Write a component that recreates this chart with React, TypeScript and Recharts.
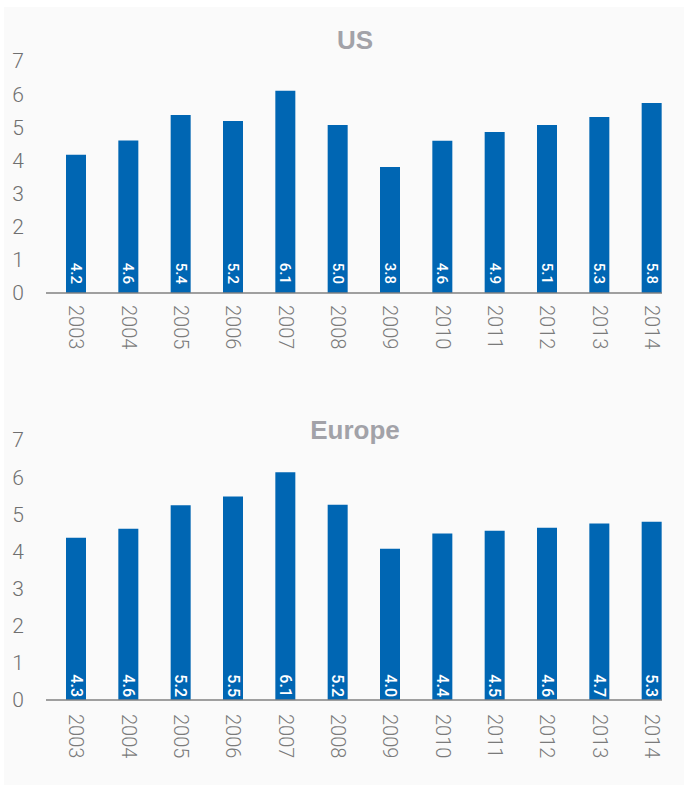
import { BarChart, Bar, XAxis, YAxis, LabelList } from 'recharts'

const YEARS = ['2003', '2004', '2005', '2006', '2007', '2008', '2009', '2010', '2011', '2012', '2013', '2014']

// bar heights as drawn, and the printed labels (they don't always agree in the source)
const US_BARS = [4.17, 4.6, 5.37, 5.19, 6.1, 5.07, 3.8, 4.59, 4.86, 5.07, 5.31, 5.73]
const US_LABELS = ['4.2', '4.6', '5.4', '5.2', '6.1', '5.0', '3.8', '4.6', '4.9', '5.1', '5.3', '5.8']

const EU_BARS = [4.37, 4.61, 5.24, 5.48, 6.13, 5.26, 4.07, 4.48, 4.56, 4.64, 4.75, 4.8]
const EU_LABELS = ['4.3', '4.6', '5.2', '5.5', '6.1', '5.2', '4.0', '4.4', '4.5', '4.6', '4.7', '5.3']

const Y_TICKS = [0, 1, 2, 3, 4, 5, 6, 7]

const BLUE = '#0066b3'
const FONT = 'Roboto, "Liberation Sans", Arial, sans-serif'

function YearTick(props: any) {
  const { x, y, payload, gap } = props
  return (
    <text
      transform={`translate(${x},${y + gap}) rotate(90)`}
      textAnchor="start"
      dominantBaseline="central"
      fill="#7a7a7a"
      fontSize={20}
      fontWeight={300}
      fontFamily={FONT}
    >
      {payload.value}
    </text>
  )
}

function makeValueLabel(labels: string[], gap: number, size: number) {
  return (props: any) => {
    const { x, y, width, height, index } = props
    const cx = Number(x) + Number(width) / 2
    const by = Number(y) + Number(height) - gap
    return (
      <text
        transform={`translate(${cx},${by}) rotate(90)`}
        textAnchor="end"
        dominantBaseline="central"
        fill="#ffffff"
        fontSize={size}
        fontWeight={500}
        fontFamily={FONT}
      >
        {labels[index]}
      </text>
    )
  }
}

function Panel({
  bars,
  labels,
  top,
  height,
  marginTop,
  axisHeight,
  tickGap,
  labelGap,
  labelSize,
}: {
  bars: number[]
  labels: string[]
  top: number
  height: number
  marginTop: number
  axisHeight: number
  tickGap: number
  labelGap: number
  labelSize: number
}) {
  const data = YEARS.map((year, i) => ({ year, value: bars[i] }))
  return (
    <div style={{ position: 'absolute', left: 0, top }}>
      <BarChart
        width={689}
        height={height}
        data={data}
        margin={{ top: marginTop, right: 27, bottom: 0, left: 0 }}
        barSize={20}
      >
        <XAxis
          dataKey="year"
          height={axisHeight}
          padding={{ left: 4, right: -16 }}
          axisLine={{ stroke: '#808080', strokeWidth: 1.5 }}
          tickLine={false}
          tickSize={0}
          tickMargin={0}
          interval={0}
          tick={<YearTick gap={tickGap} />}
        />
        <YAxis
          width={46}
          domain={[0, 7]}
          ticks={Y_TICKS}
          axisLine={false}
          tickLine={false}
          tickSize={0}
          tickMargin={22}
          tick={{ fill: '#6f6f6f', fontSize: 21, fontWeight: 300, fontFamily: FONT }}
        />
        <Bar dataKey="value" fill={BLUE} isAnimationActive={false}>
          <LabelList dataKey="value" content={makeValueLabel(labels, labelGap, labelSize)} />
        </Bar>
      </BarChart>
    </div>
  )
}

const titleStyle = {
  position: 'absolute' as const,
  left: 0,
  width: 710,
  textAlign: 'center' as const,
  fontFamily: '"Liberation Sans", Arial, sans-serif',
  fontWeight: 700,
  fontSize: 26,
  color: '#a2a2a8',
  lineHeight: '30px',
}

export default function App() {
  return (
    <div
      style={{
        position: 'absolute',
        left: 0,
        top: 0,
        width: 689,
        height: 785,
        background: '#ffffff',
        overflow: 'hidden',
      }}
    >
      <div
        style={{
          position: 'absolute',
          left: 4,
          top: 7,
          width: 680,
          height: 780,
          background: '#fafafa',
        }}
      />
      <div style={{ ...titleStyle, top: 25 }}>US</div>
      <div style={{ ...titleStyle, top: 415 }}>Europe</div>
      <Panel
        bars={US_BARS}
        labels={US_LABELS}
        top={0}
        height={380}
        marginTop={61}
        axisHeight={87}
        tickGap={12}
        labelGap={9}
        labelSize={15}
      />
      <Panel
        bars={EU_BARS}
        labels={EU_LABELS}
        top={380}
        height={405}
        marginTop={60}
        axisHeight={85}
        tickGap={14}
        labelGap={3}
        labelSize={16}
      />
    </div>
  )
}
